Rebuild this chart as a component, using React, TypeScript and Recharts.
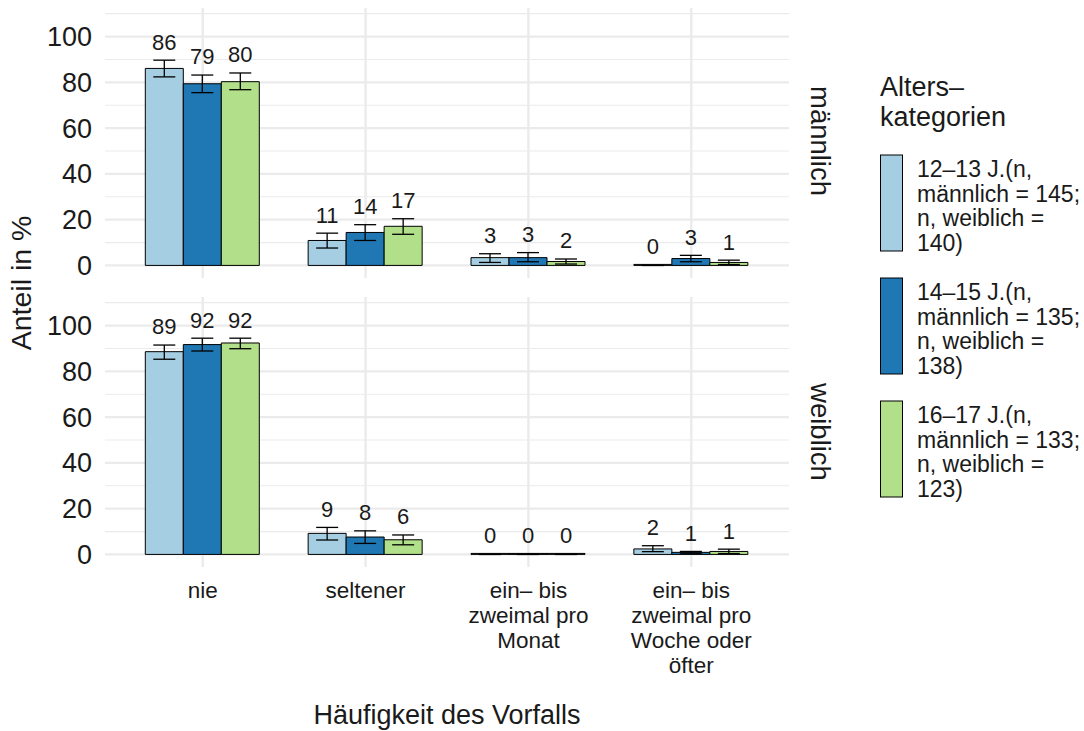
import React from 'react';
import { BarChart, Bar, XAxis, YAxis, CartesianGrid, ErrorBar, LabelList } from 'recharts';

const FONT = '"Liberation Sans", Arial, Helvetica, sans-serif';
const TEXT = '#1a1a1a';

// categories (x axis) and their wrapped tick lines
const categories = ['nie', 'seltener', 'ein– bis zweimal pro Monat', 'ein– bis zweimal pro Woche oder öfter'];
const categoryLines = [['nie'], ['seltener'], ['ein– bis', 'zweimal pro', 'Monat'], ['ein– bis', 'zweimal pro', 'Woche oder', 'öfter']];

const seriesKeys = ['a1213', 'a1415', 'a1617'];
const seriesColors = ['#A6CEE3', '#1F78B4', '#B2DF8A'];
const legendLines = [
  ['12–13 J.(n,', 'männlich = 145;', 'n, weiblich =', '140)'],
  ['14–15 J.(n,', 'männlich = 135;', 'n, weiblich =', '138)'],
  ['16–17 J.(n,', 'männlich = 133;', 'n, weiblich =', '123)'],
];

const yTicks = [0, 20, 40, 60, 80, 100];
const yMinor = [10, 30, 50, 70, 90, 110];

// männlich: share in %, lower / upper CI
const m1213 = [86.1, 10.9, 3.4, 0];
const m1213Lo = [82.4, 7.6, 1.3, 0];
const m1213Hi = [89.7, 14.1, 5.1, 0];
const m1415 = [79.4, 14.4, 3.4, 3.0];
const m1415Lo = [75.5, 10.9, 1.6, 1.6];
const m1415Hi = [83.2, 17.8, 5.6, 4.4];
const m1617 = [80.3, 17.1, 1.7, 1.3];
const m1617Lo = [76.8, 13.6, 0.6, 0.4];
const m1617Hi = [84.1, 20.4, 2.8, 2.3];

// weiblich
const w1213 = [88.6, 9.2, 0, 2.4];
const w1213Lo = [85.3, 6.3, 0, 1.2];
const w1213Hi = [91.5, 11.8, 0, 3.8];
const w1415 = [91.7, 7.6, 0, 0.9];
const w1415Lo = [88.9, 4.8, 0, 0.5];
const w1415Hi = [94.5, 10.3, 0, 1.3];
const w1617 = [92.4, 6.4, 0, 1.3];
const w1617Lo = [89.9, 4.2, 0, 0.4];
const w1617Hi = [94.5, 8.5, 0, 2.3];

type Series = { vals: number[]; lo: number[]; hi: number[] };

const maleSeries: Series[] = [
  { vals: m1213, lo: m1213Lo, hi: m1213Hi },
  { vals: m1415, lo: m1415Lo, hi: m1415Hi },
  { vals: m1617, lo: m1617Lo, hi: m1617Hi },
];
const femaleSeries: Series[] = [
  { vals: w1213, lo: w1213Lo, hi: w1213Hi },
  { vals: w1415, lo: w1415Lo, hi: w1415Hi },
  { vals: w1617, lo: w1617Lo, hi: w1617Hi },
];

function buildRows(series: Series[]) {
  return categories.map((cat, i) => {
    const row: any = { cat };
    series.forEach((s, k) => {
      const v = s.vals[i];
      row[seriesKeys[k]] = v;
      row[seriesKeys[k] + 'Err'] = [v - s.lo[i], s.hi[i] - v];
    });
    return row;
  });
}

const maleRows = buildRows(maleSeries);
const femaleRows = buildRows(femaleSeries);

// value label placed a fixed distance above the upper error bound
const makeLabel = (s: Series) => (props: any) => {
  const x = props.x ?? props.viewBox?.x;
  const y = props.y ?? props.viewBox?.y;
  const width = props.width ?? props.viewBox?.width ?? 0;
  const height = props.height ?? props.viewBox?.height ?? 0;
  const i = props.index;
  const v = s.vals[i];
  const ppu = v > 0 ? Math.abs(height) / v : 0;
  const top = y - (s.hi[i] - v) * ppu;
  return (
    <text x={x + width / 2} y={top - 18.5} dy="0.36em" textAnchor="middle" fontSize={22} fill={TEXT} fontFamily={FONT}>
      {Math.round(v)}
    </text>
  );
};

const XTick = (props: any) => {
  const { x, y, payload } = props;
  const idx = categories.indexOf(payload.value);
  const lines = categoryLines[idx] || [payload.value];
  return (
    <text x={x} y={y} textAnchor="middle" fontSize={22.5} fill={TEXT} fontFamily={FONT}>
      {lines.map((l, j) => (
        <tspan key={j} x={x} dy={j === 0 ? 31 : 25}>
          {l}
        </tspan>
      ))}
    </text>
  );
};

const NoTick = () => <g />;

function Panel({ rows, series, showX }: { rows: any[]; series: Series[]; showX: boolean }) {
  return (
    <BarChart
      width={800}
      height={showX ? 388 : 286}
      data={rows}
      margin={{ top: 8, right: 11, bottom: showX ? 0 : 8, left: 0 }}
      barGap={0}
    >
      <CartesianGrid stroke="#EBEBEB" strokeWidth={1.2} vertical={false} horizontalValues={yMinor} syncWithTicks />
      <CartesianGrid stroke="#EBEBEB" strokeWidth={2.4} syncWithTicks />
      <XAxis
        dataKey="cat"
        padding={{ left: 16.3, right: 16.3 }}
        axisLine={false}
        tickLine={false}
        tickSize={0}
        tickMargin={0}
        height={showX ? 110 : 0}
        tick={showX ? <XTick /> : <NoTick />}
        interval={0}
      />
      <YAxis
        domain={[-5.5, 112.5]}
        ticks={yTicks}
        allowDataOverflow
        axisLine={false}
        tickLine={false}
        width={105}
        tickMargin={7}
        tick={{ fontSize: 27, fill: TEXT, fontFamily: FONT }}
      />
      {seriesKeys.map((k, j) => (
        <Bar
          key={k}
          dataKey={k}
          fill={seriesColors[j]}
          stroke="#000"
          strokeWidth={1}
          barSize={38}
          minPointSize={1}
          isAnimationActive={false}
        >
          <ErrorBar dataKey={k + 'Err'} width={11} stroke="#000" strokeWidth={1.3} direction="y" />
          <LabelList dataKey={k} content={makeLabel(series[j])} />
        </Bar>
      ))}
    </BarChart>
  );
}

export default function App() {
  return (
    <div
      style={{
        position: 'absolute',
        left: 0,
        top: 0,
        width: 1084,
        height: 731,
        background: '#fff',
        fontFamily: FONT,
      }}
    >
      <div style={{ position: 'absolute', left: 0, top: 0 }}>
        <Panel rows={maleRows} series={maleSeries} showX={false} />
      </div>
      <div style={{ position: 'absolute', left: 0, top: 289 }}>
        <Panel rows={femaleRows} series={femaleSeries} showX={true} />
      </div>
      <svg width={1084} height={731} style={{ position: 'absolute', left: 0, top: 0, pointerEvents: 'none' }}>
        <g fontFamily={FONT} fill={TEXT}>
          <text transform="translate(31,283) rotate(-90)" textAnchor="middle" fontSize={28.5}>
            Anteil in %
          </text>
          <text x={447} y={724} textAnchor="middle" fontSize={27}>
            Häufigkeit des Vorfalls
          </text>
          <text transform="translate(811,141) rotate(90)" textAnchor="middle" fontSize={27.5}>
            männlich
          </text>
          <text transform="translate(811,432) rotate(90)" textAnchor="middle" fontSize={27.5}>
            weiblich
          </text>
          <text x={880} y={96} fontSize={27}>
            Alters–
          </text>
          <text x={880} y={126} fontSize={27}>
            kategorien
          </text>
          {legendLines.map((lines, j) => {
            const top = [155, 278, 401][j];
            return (
              <g key={j}>
                <rect x={880.5} y={top} width={22} height={96} fill={seriesColors[j]} stroke="#000" strokeWidth={1} />
                {lines.map((l, m) => (
                  <text key={m} x={917} y={top + 14 + m * 24.5} dy="0.36em" fontSize={23}>
                    {l}
                  </text>
                ))}
              </g>
            );
          })}
        </g>
      </svg>
    </div>
  );
}
